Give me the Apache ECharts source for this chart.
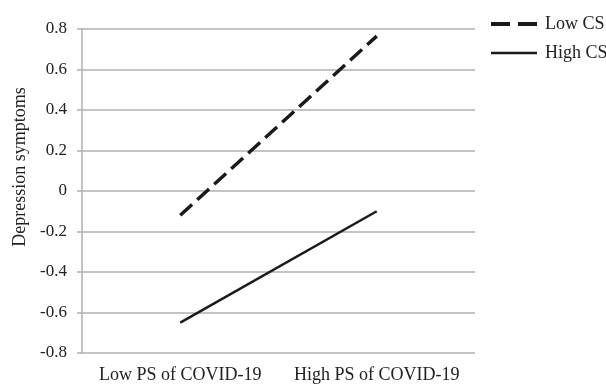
<!DOCTYPE html>
<html><head><meta charset="utf-8">
<script src="https://cdn.jsdelivr.net/npm/echarts@6/dist/echarts.min.js"></script>
<style>html,body{margin:0;padding:0;background:#fff}#c{width:606px;height:386px}</style>
</head><body><div id="c"></div>
<script>
var categories = ['Low PS of COVID-19', 'High PS of COVID-19'];
var lowCS = [-0.12, 0.765];
var highCS = [-0.65, -0.10];
var yTicks = {min: -0.8, max: 0.8, interval: 0.2};

var font = 'Liberation Serif';
var chart = echarts.init(document.getElementById('c'));
chart.setOption({
  animation: false,
  backgroundColor: '#fff',
  grid: {left: 82, right: 131, top: 29, bottom: 33},
  legend: {
    orient: 'vertical', left: 484, top: 10, itemGap: 11,
    itemWidth: 46, itemHeight: 14,
    itemStyle: {opacity: 0},
    textStyle: {fontFamily: font, fontSize: 18, color: '#222', padding: [0, 0, 0, 3]},
    data: [
      {name: 'Low CS', lineStyle: {color: '#1a1a1a', width: 4, type: [19, 8]}},
      {name: 'High CS', lineStyle: {color: '#1a1a1a', width: 2.5, type: 'solid'}}
    ]
  },
  xAxis: {
    type: 'category', data: categories, boundaryGap: true,
    axisLine: {show: false}, axisTick: {show: false},
    axisLabel: {interval: 0, fontFamily: font, fontSize: 18, color: '#222', margin: 13}
  },
  yAxis: {
    type: 'value', min: yTicks.min, max: yTicks.max, interval: yTicks.interval,
    name: 'Depression symptoms', nameLocation: 'middle', nameGap: 53,
    nameTextStyle: {fontFamily: font, fontSize: 18, color: '#222', padding: [0, 0, 0, 48]},
    axisLine: {show: true, lineStyle: {color: '#b0b0b0', width: 1.5}},
    axisTick: {show: true, length: 5, lineStyle: {color: '#b0b0b0', width: 1.5}},
    splitLine: {show: true, lineStyle: {color: '#b0b0b0', width: 1.5}},
    axisLabel: {fontFamily: font, fontSize: 17, color: '#222', margin: 15,
      formatter: function(v){ return v === 0 ? '0' : v.toFixed(1); }}
  },
  series: [
    {name: 'Low CS', type: 'line', data: lowCS, symbol: 'none',
     lineStyle: {color: '#1a1a1a', width: 3.5, type: [16, 7]}, itemStyle: {color: '#1a1a1a'}},
    {name: 'High CS', type: 'line', data: highCS, symbol: 'none',
     lineStyle: {color: '#1a1a1a', width: 2.5, type: 'solid'}, itemStyle: {color: '#1a1a1a'}}
  ]
});
</script></body></html>
